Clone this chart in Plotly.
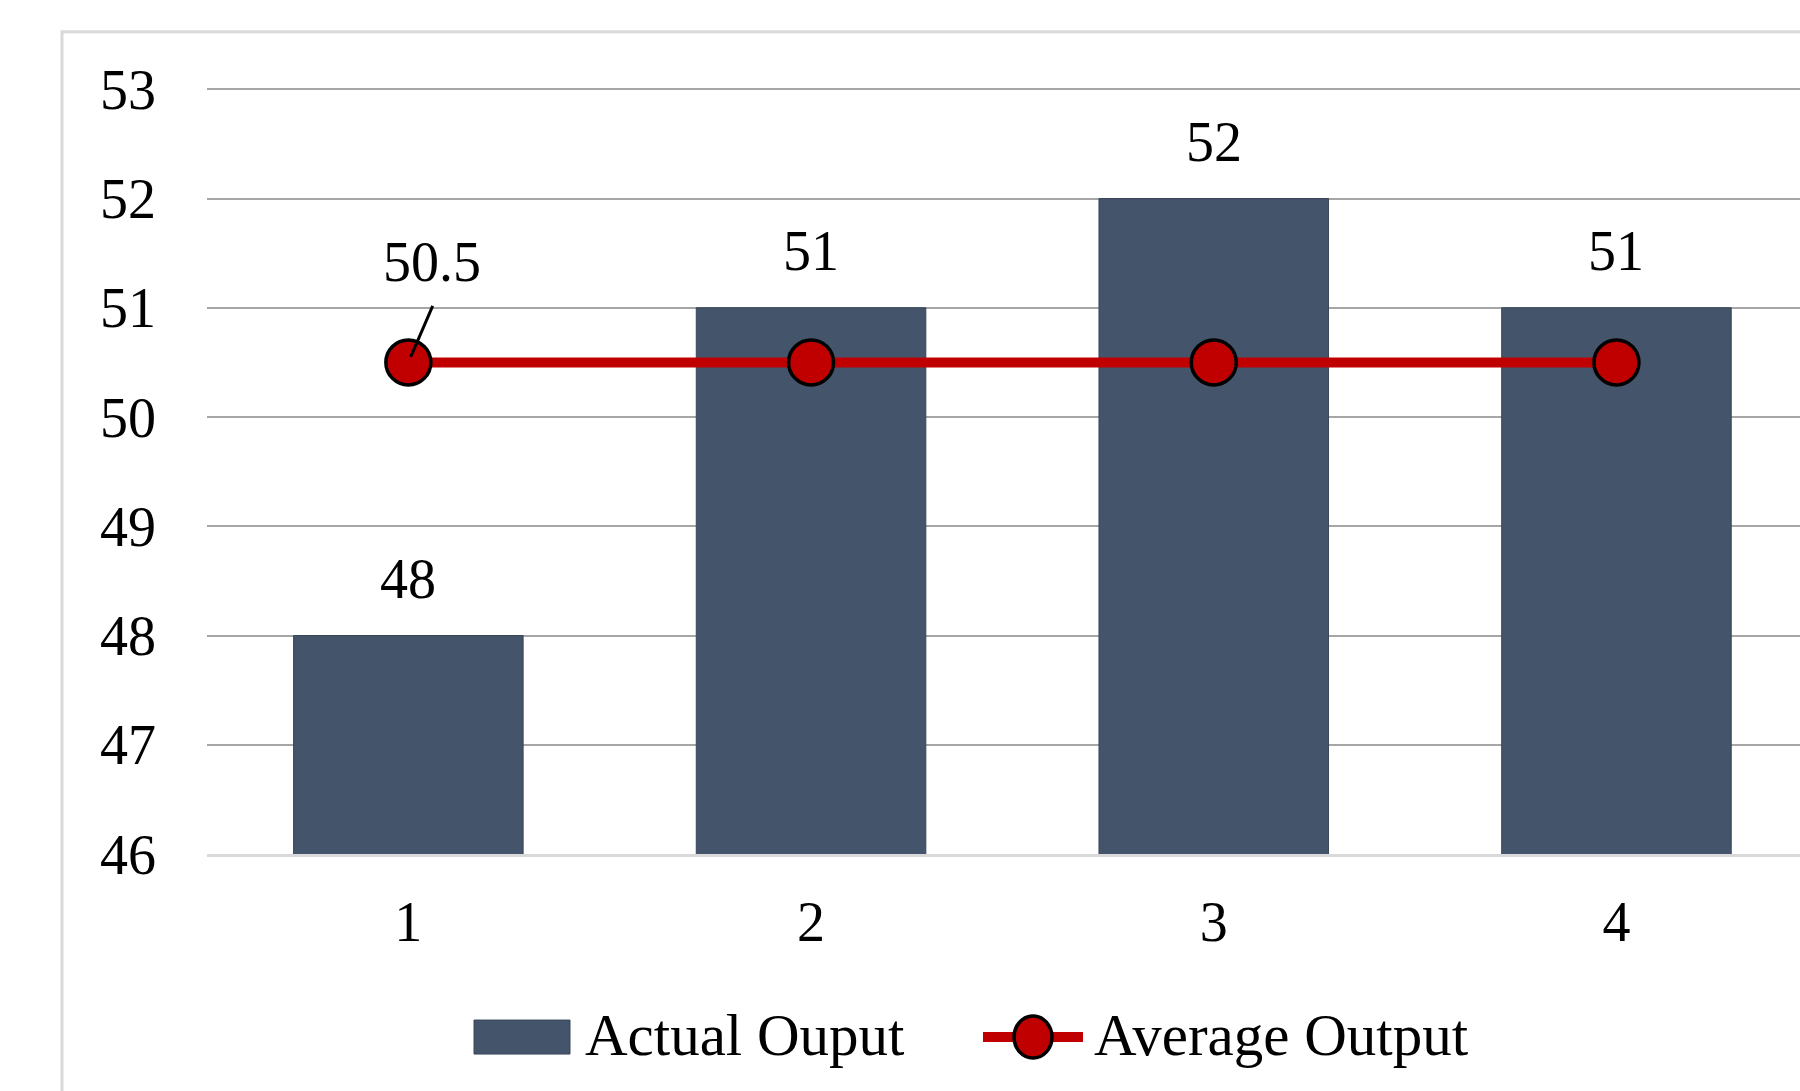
import plotly.graph_objects as go

categories = [1, 2, 3, 4]
actual_output = [48, 51, 52, 51]
average_output = [50.5, 50.5, 50.5, 50.5]
y_ticks = [46, 47, 48, 49, 50, 51, 52, 53]

W, H = 1800, 1091
Y_TOP = 53.03
L, R, B = 207, 0, 237
T = (H - B) - 764.5 * (Y_TOP - 46) / 7
PW = W - L - R
PH = H - T - B
CAT_PX = 402.7

FONT = "Liberation Serif, Times New Roman, serif"
BAR_C = "#44546A"
RED = "#C00000"


def px_x(p):
    return (p - L) / PW


def px_y(p):
    return (H - B - p) / PH


fig = go.Figure()
fig.add_trace(go.Bar(
    x=categories, y=actual_output, name="Actual Ouput", width=0.57,
    marker=dict(color=BAR_C, line=dict(color="#3a4759", width=1)),
    showlegend=False,
))
fig.add_trace(go.Scatter(
    x=categories, y=average_output, name="Average Output", mode="lines+markers",
    line=dict(color=RED, width=10),
    marker=dict(size=45, color=RED, line=dict(color="black", width=3.5)),
    showlegend=False,
))

annotations = []
for c, v in zip(categories, actual_output):
    annotations.append(dict(x=c, y=v, text=str(v), showarrow=False,
                            yanchor="bottom", yshift=24,
                            font=dict(family=FONT, size=56, color="black")))
# label for the first average point with leader line
annotations.append(dict(x=categories[0], y=average_output[0], text=str(average_output[0]),
                        showarrow=False, xshift=24, yshift=100,
                        font=dict(family=FONT, size=56, color="black")))
annotations.append(dict(x=categories[0], y=average_output[0], text="",
                        showarrow=True, arrowhead=0, arrowwidth=3, arrowcolor="black",
                        ax=25, ay=-58, standoff=6))

# custom legend
annotations.append(dict(xref="paper", yref="paper", x=px_x(583), y=px_y(1035),
                        xanchor="left", yanchor="middle", text="Actual Ouput",
                        showarrow=False, font=dict(family=FONT, size=59, color="black")))
annotations.append(dict(xref="paper", yref="paper", x=px_x(1092), y=px_y(1035),
                        xanchor="left", yanchor="middle", text="Average Output",
                        showarrow=False, font=dict(family=FONT, size=59, color="black")))

shapes = [
    # outer chart border
    dict(type="rect", xref="paper", yref="paper", x0=px_x(62), x1=px_x(1900),
         y0=px_y(1200), y1=px_y(32), line=dict(color="#d9d9d9", width=3),
         fillcolor="rgba(0,0,0,0)", layer="below"),
    # legend swatches
    dict(type="rect", xref="paper", yref="paper", x0=px_x(474), x1=px_x(570),
         y0=px_y(1054), y1=px_y(1020), fillcolor=BAR_C, line=dict(color="#3a4759", width=1)),
    dict(type="line", xref="paper", yref="paper", x0=px_x(983), x1=px_x(1083),
         y0=px_y(1037), y1=px_y(1037), line=dict(color=RED, width=10)),
    dict(type="circle", xref="paper", yref="paper", xsizemode="pixel", ysizemode="pixel",
         xanchor=px_x(1033), yanchor=px_y(1037), x0=-19, x1=19, y0=-21, y1=21,
         fillcolor=RED, line=dict(color="black", width=3.5)),
]

fig.update_layout(
    width=W, height=H,
    margin=dict(l=L, r=R, t=T, b=B, pad=0),
    paper_bgcolor="white", plot_bgcolor="white",
    font=dict(family=FONT, size=56, color="black"),
    showlegend=False,
    annotations=annotations,
    shapes=shapes,
    xaxis=dict(range=[0.5, 0.5 + PW / CAT_PX], tickvals=categories,
               ticktext=[str(c) for c in categories], showgrid=False, zeroline=False,
               showline=True, linecolor="#d9d9d9", linewidth=3,
               ticks="", ticklabelstandoff=17,
               tickfont=dict(family=FONT, size=56, color="black")),
    yaxis=dict(range=[46, Y_TOP], tickvals=y_ticks, showgrid=True, gridcolor="#a6a6a6",
               gridwidth=2, zeroline=False, showline=False, ticks="",
               ticklabelstandoff=50,
               tickfont=dict(family=FONT, size=56, color="black")),
)

fig.write_html("out.html", config={"displayModeBar": False},
               post_script="document.body.style.margin='0';document.body.style.overflow='hidden';")
